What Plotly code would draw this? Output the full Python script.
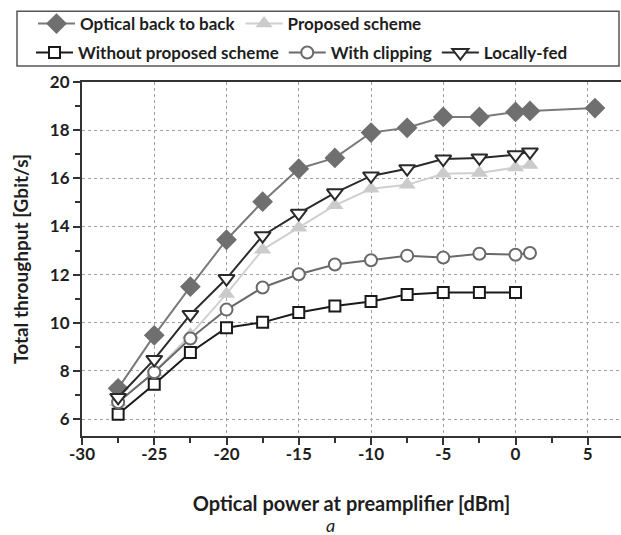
import plotly.graph_objects as go

# Optical power at the preamplifier [dBm]
power = [-27.5, -25, -22.5, -20, -17.5, -15, -12.5, -10, -7.5, -5, -2.5, 0, 1]
power_b2b = power + [5.5]
power_without = power[:-1]

# Total throughput [Gbit/s]
optical_b2b = [7.28, 9.48, 11.5, 13.45, 15.03, 16.4, 16.85, 17.9, 18.1, 18.55, 18.55, 18.76, 18.8, 18.92]
proposed = [6.7, 7.95, 9.5, 11.2, 13.04, 13.95, 14.88, 15.57, 15.73, 16.19, 16.22, 16.45, 16.56]
without_proposed = [6.2, 7.45, 8.77, 9.8, 10.02, 10.43, 10.7, 10.89, 11.18, 11.26, 11.26, 11.26]
with_clipping = [6.7, 7.95, 9.35, 10.55, 11.47, 12.02, 12.42, 12.6, 12.79, 12.71, 12.87, 12.83, 12.9]
locally_fed = [6.9, 8.48, 10.35, 11.84, 13.62, 14.55, 15.4, 16.1, 16.4, 16.8, 16.85, 16.98, 17.1]

FONT = "Lato"
INK = "#1e1e1e"

# plot area in pixels: x 82..621, y 81..436
L, R, T, B = 82, 621, 81, 436
W, H = R - L, B - T


def px_x(px):
    return (px - L) / W


def px_y(py):
    return (B - py) / H


fig = go.Figure()

fig.add_trace(go.Scatter(
    x=power_b2b, y=optical_b2b, name="Optical back to back", mode="lines+markers",
    line=dict(color="#7a7a7a", width=2),
    marker=dict(symbol="diamond", size=16, color="#6f6f6f", line=dict(width=0)),
    legend="legend"))
fig.add_trace(go.Scatter(
    x=power, y=proposed, name="Proposed scheme", mode="lines+markers",
    line=dict(color="#d0d0d0", width=2),
    marker=dict(symbol="triangle-up", size=15, color="#cbcbcb", line=dict(width=0)),
    legend="legend"))
fig.add_trace(go.Scatter(
    x=power_without, y=without_proposed, name="Without proposed scheme", mode="lines+markers",
    line=dict(color="#1a1a1a", width=2),
    marker=dict(symbol="square", size=11, color="white", line=dict(color="#1a1a1a", width=2)),
    legend="legend2"))
fig.add_trace(go.Scatter(
    x=power, y=with_clipping, name="With clipping", mode="lines+markers",
    line=dict(color="#6a6a6a", width=2),
    marker=dict(symbol="circle", size=12, color="white", line=dict(color="#6a6a6a", width=2)),
    legend="legend2"))
fig.add_trace(go.Scatter(
    x=power, y=locally_fed, name="Locally-fed", mode="lines+markers",
    line=dict(color="#2a2a2a", width=2),
    marker=dict(symbol="triangle-down", size=14, color="white", line=dict(color="#2a2a2a", width=2)),
    legend="legend2"))

legend_common = dict(
    orientation="h", xref="container", yref="container", xanchor="left", yanchor="top",
    bgcolor="rgba(0,0,0,0)", borderwidth=0,
    font=dict(family=FONT, size=17, color=INK, weight="bold"),
    itemwidth=37, tracegroupgap=0,
)

fig.update_layout(
    width=621, height=535,
    margin=dict(l=L, r=621 - R, t=T, b=535 - B),
    paper_bgcolor="white", plot_bgcolor="white",
    font=dict(family=FONT, color=INK),
    legend=dict(x=33 / 621, y=1 - 6 / 535, **legend_common),
    legend2=dict(x=31 / 621, y=1 - 35 / 535, **legend_common),
    xaxis=dict(
        range=[-30, 7.3], tickmode="array", tickvals=[-30, -25, -20, -15, -10, -5, 0, 5],
        ticktext=["-30", "-25", "-20", "-15", "-10", "-5", "0", "5"],
        ticks="outside", ticklen=7, tickwidth=2, tickcolor="#333", ticklabelstandoff=-5,
        minor=dict(dtick=2.5, tick0=-30, ticks="outside", ticklen=5, tickwidth=1.5, tickcolor="#333", showgrid=False),
        showline=True, linecolor="#333", linewidth=2, mirror=True,
        showgrid=True, gridcolor="#a0a0a0", griddash="dot", gridwidth=1,
        zeroline=False,
        tickfont=dict(family=FONT, size=17, color=INK, weight="bold"),
        title=dict(text="Optical power at preamplifier [dBm]", standoff=34,
                   font=dict(family=FONT, size=20, color=INK, weight="bold")),
    ),
    yaxis=dict(
        range=[5.3, 20], tickmode="array", tickvals=[6, 8, 10, 12, 14, 16, 18, 20],
        ticks="outside", ticklen=7, tickwidth=2, tickcolor="#333",
        minor=dict(dtick=1, tick0=0, ticks="outside", ticklen=5, tickwidth=1.5, tickcolor="#333", showgrid=False),
        showline=True, linecolor="#333", linewidth=2,
        showgrid=True, gridcolor="#a0a0a0", griddash="dot", gridwidth=1,
        zeroline=False,
        tickfont=dict(family=FONT, size=17, color=INK, weight="bold"),
        title=dict(text="Total throughput [Gbit/s]", standoff=16,
                   font=dict(family=FONT, size=19, color=INK, weight="bold")),
    ),
    shapes=[dict(type="rect", xref="paper", yref="paper",
                 x0=px_x(17), x1=px_x(619), y0=px_y(65), y1=px_y(10),
                 line=dict(color="#555", width=1.5), fillcolor="rgba(0,0,0,0)")],
    annotations=[dict(text="<i>a</i>", xref="paper", yref="paper",
                      x=px_x(330), y=px_y(525), xanchor="center", yanchor="middle",
                      showarrow=False, font=dict(family=FONT, size=18, color=INK))],
)

fig.write_html("out.html")
